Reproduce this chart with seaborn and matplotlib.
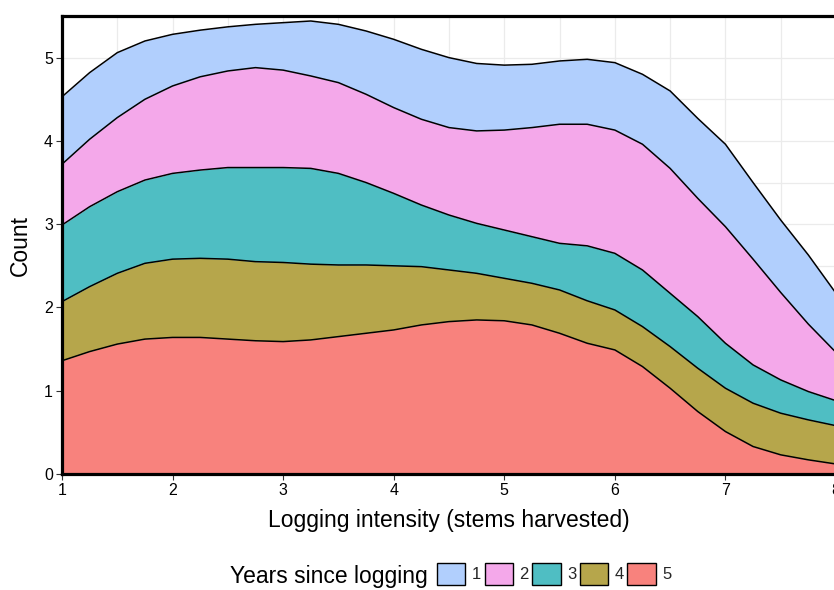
import numpy as np
import pandas as pd
import matplotlib
matplotlib.use("Agg")
import matplotlib.pyplot as plt
from matplotlib.patches import Patch
from matplotlib.ticker import MultipleLocator
import seaborn as sns

# ---- data (stacked cumulative tops, per year group) ----
logging_intensity = [1.0, 1.25, 1.5, 1.75, 2.0, 2.25, 2.5, 2.75, 3.0, 3.25, 3.5, 3.75,
                     4.0, 4.25, 4.5, 4.75, 5.0, 5.25, 5.5, 5.75, 6.0, 6.25, 6.5, 6.75,
                     7.0, 7.25, 7.5, 7.75, 8.0]
stack_top_5 = [1.36, 1.47, 1.56, 1.62, 1.64, 1.64, 1.62, 1.60, 1.59, 1.61, 1.65, 1.69,
               1.73, 1.79, 1.83, 1.85, 1.84, 1.79, 1.69, 1.57, 1.49, 1.29, 1.03, 0.75,
               0.51, 0.33, 0.23, 0.17, 0.12]
stack_top_4 = [2.07, 2.25, 2.41, 2.53, 2.58, 2.59, 2.58, 2.55, 2.54, 2.52, 2.51, 2.51,
               2.50, 2.49, 2.45, 2.41, 2.35, 2.29, 2.21, 2.08, 1.97, 1.77, 1.53, 1.27,
               1.03, 0.85, 0.73, 0.65, 0.58]
stack_top_3 = [2.99, 3.21, 3.39, 3.53, 3.61, 3.65, 3.68, 3.68, 3.68, 3.67, 3.61, 3.50,
               3.37, 3.23, 3.11, 3.01, 2.93, 2.85, 2.77, 2.74, 2.65, 2.45, 2.17, 1.89,
               1.57, 1.31, 1.13, 0.99, 0.88]
stack_top_2 = [3.72, 4.02, 4.28, 4.50, 4.66, 4.77, 4.84, 4.88, 4.85, 4.78, 4.70, 4.56,
               4.40, 4.26, 4.16, 4.12, 4.13, 4.16, 4.20, 4.20, 4.13, 3.96, 3.67, 3.31,
               2.97, 2.58, 2.18, 1.80, 1.46]
stack_top_1 = [4.53, 4.82, 5.06, 5.20, 5.28, 5.33, 5.37, 5.40, 5.42, 5.44, 5.40, 5.32,
               5.22, 5.10, 5.00, 4.93, 4.91, 4.92, 4.96, 4.98, 4.94, 4.80, 4.60, 4.27,
               3.96, 3.50, 3.05, 2.63, 2.17]
years = ["1", "2", "3", "4", "5"]
x_ticks = [1, 2, 3, 4, 5, 6, 7, 8]
y_ticks = [0, 1, 2, 3, 4, 5]

colors = {"1": "#B1CFFD", "2": "#F4A8EA", "3": "#4FBEC3", "4": "#B6A64B", "5": "#F8827D"}

tops = {"1": stack_top_1, "2": stack_top_2, "3": stack_top_3,
        "4": stack_top_4, "5": stack_top_5}
df = pd.concat([pd.DataFrame({"x": logging_intensity, "top": tops[y], "year": y})
                for y in years], ignore_index=True)

sns.set_theme(style="white")
plt.rcParams["font.family"] = ["Liberation Sans", "DejaVu Sans"]

fig = plt.figure(figsize=(8.34, 5.90), dpi=100)
W, H = 834, 590
ax = fig.add_axes([62 / W, 1 - 474 / H, (836 - 62) / W, (474 - 16) / H])

# fills: stacked from bottom (year 5) to top (year 1)
order_bottom_up = ["5", "4", "3", "2", "1"]
lower = np.zeros(len(logging_intensity))
for y in order_bottom_up:
    upper = np.asarray(tops[y])
    ax.fill_between(logging_intensity, lower, upper, color=colors[y], lw=0, zorder=2)
    lower = upper

line_ax = sns.lineplot(data=df, x="x", y="top", units="year", estimator=None, sort=False,
                       color="black", lw=1.1, ax=ax, zorder=3, legend=False)
for ln in ax.get_lines():
    ln.set_solid_joinstyle("round")

ax.set_xlim(1, 8)
ax.set_ylim(0, 5.5)
ax.set_xticks(x_ticks)
ax.set_yticks(y_ticks)
ax.xaxis.set_minor_locator(MultipleLocator(0.5))
ax.yaxis.set_minor_locator(MultipleLocator(0.5))
ax.grid(which="both", color="#EBEBEB", lw=0.9)
ax.set_axisbelow(True)
ax.tick_params(which="major", axis="both", length=4, width=0.8, color="#333333",
               labelsize=11.5, labelcolor="black", pad=2.5, bottom=True, left=True)
ax.tick_params(which="minor", length=0)

for side in ["top", "left", "bottom"]:
    ax.spines[side].set_visible(True)
    ax.spines[side].set_color("black")
    ax.spines[side].set_linewidth(2.3)
    ax.spines[side].set_zorder(5)
ax.spines["right"].set_visible(False)

ax.set_xlabel("Logging intensity (stems harvested)", fontsize=16.5, color="black", labelpad=8)
ax.set_ylabel("Count", fontsize=16.5, color="black", labelpad=9)

# legend
fig.text(230 / W, 1 - 576 / H, "Years since logging", fontsize=16.5,
         ha="left", va="center", color="black")
handles = [Patch(facecolor=colors[y], edgecolor="black", lw=1.0) for y in years]
fig.legend(handles, years, loc="center left", bbox_to_anchor=(437 / W, 1 - 574 / H),
           ncol=5, frameon=False, fontsize=12, handlelength=1.7, handleheight=1.7,
           handletextpad=0.4, columnspacing=0.2, borderpad=0, borderaxespad=0)

fig.savefig("out.png", dpi=100)
